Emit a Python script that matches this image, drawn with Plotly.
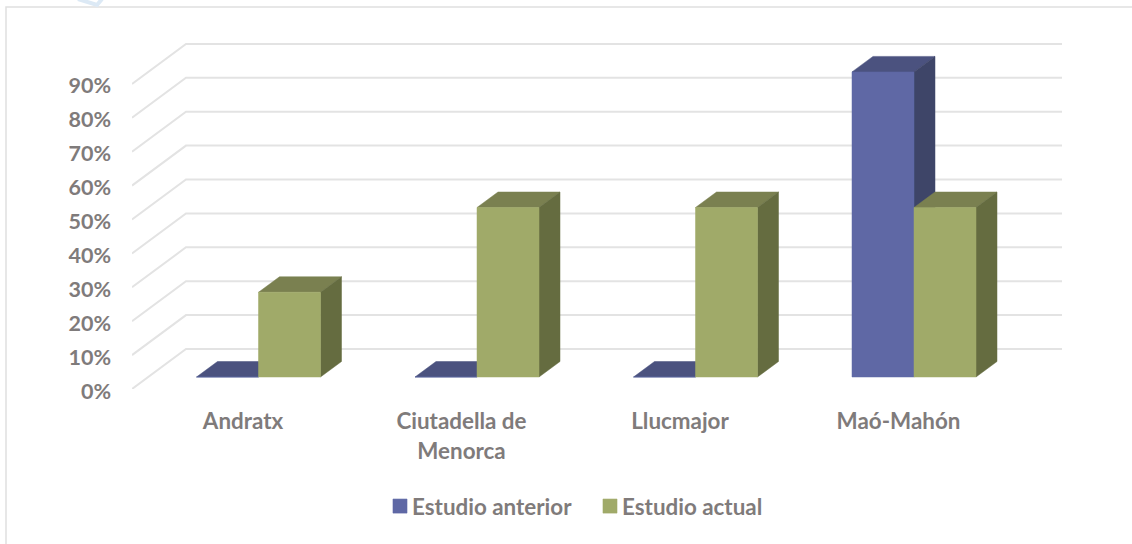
import plotly.graph_objects as go

categories = ["Andratx", "Ciutadella de<br>Menorca", "Llucmajor", "Maó-Mahón"]
estudio_anterior = [0, 0, 0, 90]
estudio_actual = [25, 50, 50, 50]
y_ticks = [0, 10, 20, 30, 40, 50, 60, 70, 80, 90]
y_tick_labels = ["0%", "10%", "20%", "30%", "40%", "50%", "60%", "70%", "80%", "90%"]

W, H = 1132, 544
L, R, T, B = 132, 1062, 30, 389
PX_PER_CAT = 218.5
PX_PER_PCT = 3.39
x0_px = 243.0
to_x = lambda p: (p - x0_px) / PX_PER_CAT
to_y = lambda p: (B - p) / PX_PER_PCT
pap_x = lambda p: (p - L) / (R - L)
pap_y = lambda p: (B - p) / (B - T)

BASE = 12 / PX_PER_PCT          # bar front plane above the axis front edge
BAR_W = 62 / PX_PER_CAT
DX, DY = 21 / PX_PER_CAT, 15.5 / PX_PER_PCT
GRID_DX, GRID_DY = 54 / PX_PER_CAT, 40 / PX_PER_PCT
OFF_A = -46.5 / PX_PER_CAT
OFF_B = OFF_A + BAR_W


def faces(vals, off):
    tx, ty, sx, sy = [], [], [], []
    for i, v in enumerate(vals):
        l, r = i + off, i + off + BAR_W
        b, t = BASE, BASE + v
        tx += [l, r, r + DX, l + DX, l, None]
        ty += [t, t, t + DY, t + DY, t, None]
        if v > 0:
            sx += [r, r + DX, r + DX, r, r, None]
            sy += [b, b + DY, t + DY, t, b, None]
    return tx, ty, sx, sy


fig = go.Figure()

# Gridlines: floor/left-wall edge, then back wall
xl, xb, xr = to_x(L), to_x(L) + GRID_DX, to_x(R)
gx, gy = [], []
for t in y_ticks:
    gx += [xl, xb, xr, None]
    gy += [t, t + GRID_DY, t + GRID_DY, None]
fig.add_trace(go.Scatter(x=gx, y=gy, mode="lines", line=dict(color="#e3e3e3", width=2),
                         showlegend=False, hoverinfo="skip", zorder=0))


def add_series(name, vals, off, front, side, top, z):
    tx, ty, sx, sy = faces(vals, off)
    fig.add_trace(go.Scatter(x=tx, y=ty, mode="lines", fill="toself", fillcolor=top,
                             line=dict(color=top, width=0.5), showlegend=False,
                             hoverinfo="skip", zorder=z))
    fig.add_trace(go.Scatter(x=sx, y=sy, mode="lines", fill="toself", fillcolor=side,
                             line=dict(color=side, width=0.5), showlegend=False,
                             hoverinfo="skip", zorder=z))
    fig.add_trace(go.Bar(name=name, x=list(range(len(vals))), y=vals, base=BASE, width=BAR_W,
                         offset=off, marker=dict(color=front, line=dict(color=front, width=0.5)),
                         zorder=z + 1))


add_series("Estudio anterior", estudio_anterior, OFF_A, "#5f68a5", "#3e4568", "#4b527f", 1)
add_series("Estudio actual", estudio_actual, OFF_B, "#a0aa69", "#656c40", "#7a8050", 3)

FONT = dict(family="Lato", size=22.4, color="#7f7b7b", weight="bold")
YFONT = dict(family="Lato", size=21.5, color="#7f7b7b", weight="bold")

fig.update_layout(
    width=W, height=H,
    margin=dict(l=L, r=W - R, t=T, b=H - B, autoexpand=False),
    paper_bgcolor="white", plot_bgcolor="rgba(0,0,0,0)",
    barmode="overlay",
    font=FONT,
    xaxis=dict(range=[to_x(L), to_x(R)], tickvals=list(range(4)), ticktext=categories,
               showgrid=False, zeroline=False, showline=False, ticks="",
               ticklabelstandoff=17, tickfont=FONT),
    yaxis=dict(range=[0, to_y(T)], tickvals=y_ticks, ticktext=y_tick_labels, showgrid=False,
               zeroline=False, showline=False, ticks="", ticklabelstandoff=20,
               ticklabelshift=2, tickfont=YFONT),
    legend=dict(orientation="h", x=pap_x(372), xanchor="left", y=pap_y(485), yanchor="top",
                font=FONT, entrywidth=165, entrywidthmode="pixels",
                bgcolor="rgba(0,0,0,0)", traceorder="normal"),
    shapes=[
        dict(type="path", xref="paper", yref="paper", layer="below",
             path=f"M {pap_x(6)} {pap_y(H)} L {pap_x(6)} {pap_y(7)} L {pap_x(W)} {pap_y(7)}",
             line=dict(color="#e0e0e0", width=1.5)),
        dict(type="path", xref="paper", yref="paper", layer="below",
             path=f"M {pap_x(78)} {pap_y(-1)} L {pap_x(97)} {pap_y(5)} L {pap_x(102)} {pap_y(-1)}",
             line=dict(color="#dce9f5", width=4)),
    ],
)

post = """
document.body.style.margin='0';
document.documentElement.style.overflow='hidden';
document.querySelectorAll('.legendsymbols').forEach(function(g){
  g.setAttribute('transform','translate(28,0) scale(1.17) translate(-20,0)');
});
"""
fig.write_html("out.html", post_script=post, config=dict(displayModeBar=False))
